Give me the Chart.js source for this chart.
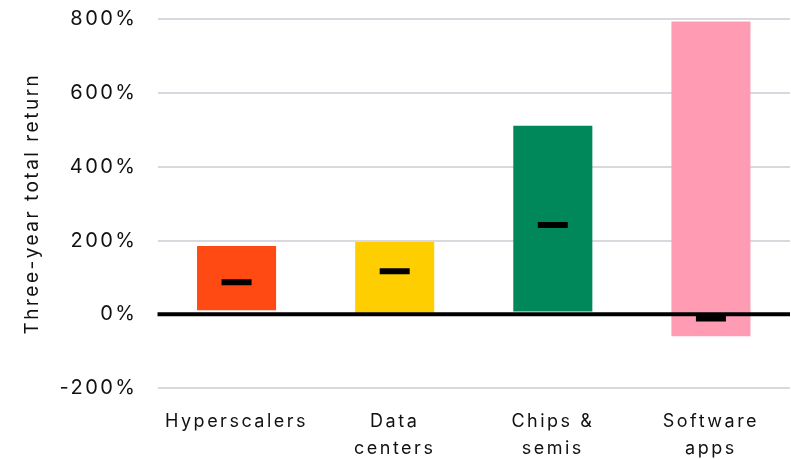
<!DOCTYPE html>
<html>
<head>
<meta charset="utf-8">
<script src="https://cdn.jsdelivr.net/npm/chart.js@4.4.1/dist/chart.umd.min.js"></script>
<style>
  html, body { margin: 0; padding: 0; background: #ffffff; }
  #wrap { width: 791px; height: 460px; }
</style>
</head>
<body>
<div id="wrap"><canvas id="c" width="791" height="460"></canvas></div>
<script>
// Data
const categories = [["Hyperscalers"], ["Data", "centers"], ["Chips &", "semis"], ["Software", "apps"]];
const rangeLow = [11, 0, 8, -59];
const rangeHigh = [185, 196, 511, 793];
const medians = [87, 117, 242, -11];
const barColors = ["#FF4A14", "#FFCE00", "#00875A", "#FF9CB4"];
const yTicks = [-200, 0, 200, 400, 600, 800];

const FONT = "Inter, 'Noto Sans', sans-serif";
const SPACING = "2.5px";

const spacingPlugin = {
  id: "spacing",
  beforeUpdate(chart) { chart.ctx.letterSpacing = SPACING; },
  beforeLayout(chart) { chart.ctx.letterSpacing = SPACING; },
  beforeDraw(chart) { chart.ctx.letterSpacing = SPACING; }
};

const zeroLinePlugin = {
  id: "zeroLine",
  afterDatasetsDraw(chart) {
    const y = chart.scales.y.getPixelForValue(0);
    const { left, right } = chart.chartArea;
    const ctx = chart.ctx;
    ctx.save();
    ctx.strokeStyle = "#000000";
    ctx.lineWidth = 4;
    ctx.beginPath();
    ctx.moveTo(left, y);
    ctx.lineTo(right, y);
    ctx.stroke();
    ctx.restore();
  }
};

new Chart(document.getElementById("c"), {
  data: {
    labels: categories,
    datasets: [
      {
        type: "line",
        label: "Median",
        data: medians,
        showLine: false,
        pointStyle: "line",
        pointRadius: 15,
        pointHoverRadius: 15,
        pointBorderWidth: 6,
        pointHoverBorderWidth: 6,
        borderColor: "#000000",
        backgroundColor: "#000000",
        order: 0
      },
      {
        type: "bar",
        label: "Range",
        data: rangeLow.map((lo, i) => [lo, rangeHigh[i]]),
        backgroundColor: barColors,
        borderWidth: 0,
        barPercentage: 0.5,
        categoryPercentage: 1.0,
        order: 1
      }
    ]
  },
  options: {
    responsive: false,
    animation: false,
    layout: { autoPadding: false, padding: { top: 0, right: 1, left: 0, bottom: -5 } },
    plugins: {
      legend: { display: false },
      tooltip: { enabled: false }
    },
    scales: {
      x: {
        type: "category",
        offset: true,
        afterFit(scale) {
          scale.paddingLeft = 0;
          scale.paddingRight = 0;
        },
        grid: { display: true, color: "rgba(0,0,0,0)", drawOnChartArea: false, drawTicks: true, tickLength: 17, tickColor: "rgba(0,0,0,0)" },
        border: { display: false },
        ticks: {
          color: "#111111",
          padding: 2,
          maxRotation: 0,
          autoSkip: false,
          font: { family: FONT, size: 18, lineHeight: 1.55 }
        }
      },
      y: {
        type: "linear",
        min: -200,
        max: 800,
        afterBuildTicks(scale) {
          scale.ticks = yTicks.map(v => ({ value: v }));
        },
        afterFit(scale) {
          scale.width = 157.5;
          scale.paddingTop = 19;
          scale.paddingBottom = 0;
        },
        grid: {
          color: "#D9D8DE",
          lineWidth: 2,
          drawTicks: true,
          tickLength: 18,
          tickColor: "rgba(0,0,0,0)"
        },
        border: { display: false },
        ticks: {
          color: "#111111",
          padding: 2,
          font: { family: FONT, size: 20 },
          callback: v => v + "%"
        },
        title: {
          display: true,
          text: "Three-year total return",
          color: "#111111",
          font: { family: FONT, size: 19 },
          padding: { top: 21, bottom: 0 }
        }
      }
    }
  },
  plugins: [spacingPlugin, zeroLinePlugin]
});
</script>
</body>
</html>
